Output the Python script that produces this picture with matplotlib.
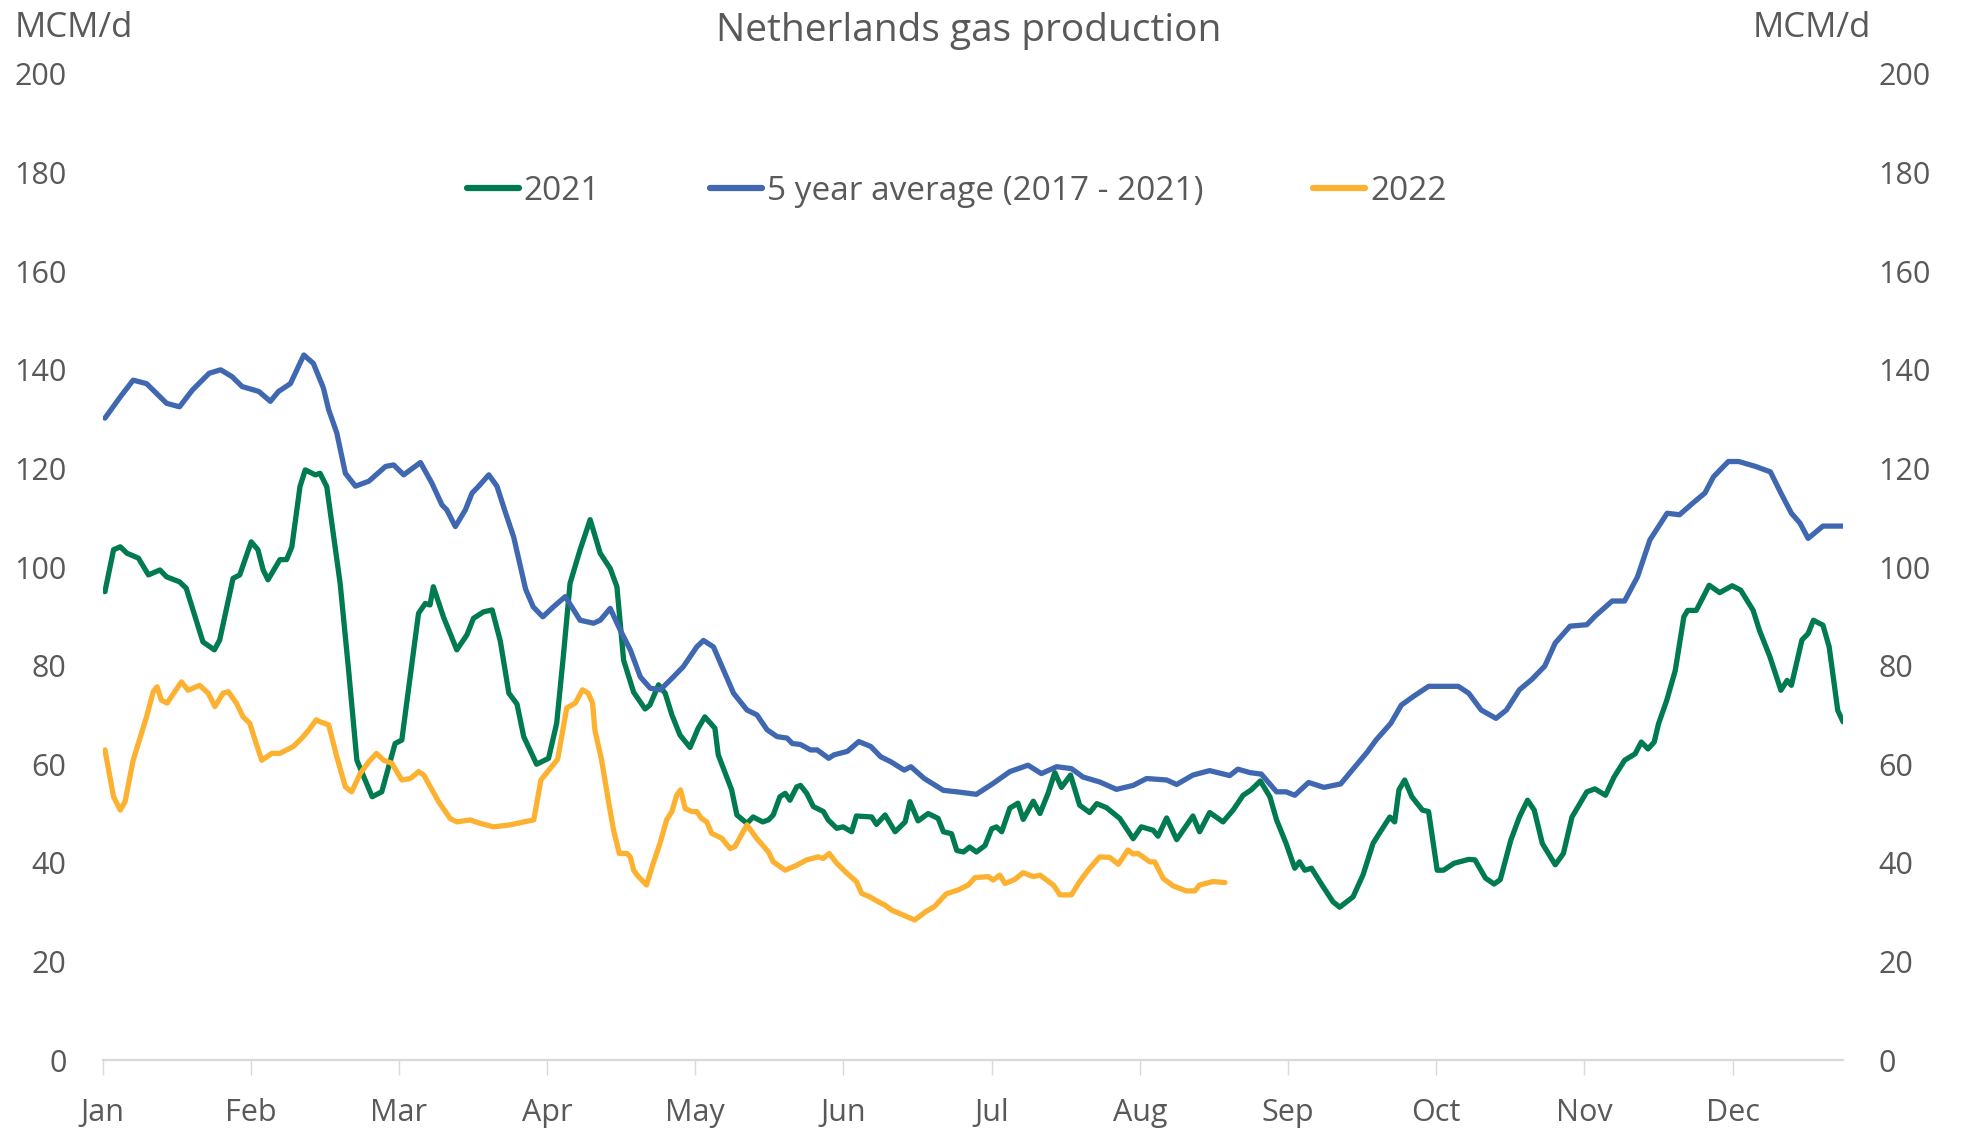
import matplotlib
matplotlib.use('Agg')
import matplotlib.pyplot as plt

plt.rcParams['font.family'] = ['Open Sans', 'DejaVu Sans']

# month tick labels (Excel category axis, one label every 31 days)
months = ['Jan', 'Feb', 'Mar', 'Apr', 'May', 'Jun', 'Jul', 'Aug', 'Sep', 'Oct', 'Nov', 'Dec']
yticks = [0, 20, 40, 60, 80, 100, 120, 140, 160, 180, 200]

# 2021 - day of year / MCM per day
days_2021 = [1.5, 3.3, 4.7, 6.1, 8.5, 10.6, 13.0, 14.4, 17.1, 18.5, 22.0, 24.4, 25.5, 28.3, 29.7,
             32.1, 33.5, 34.6, 35.6, 38.1, 39.5, 40.6, 42.3, 43.4, 45.5, 46.5, 47.9, 50.7, 52.4,
             54.2, 57.4, 59.4, 62.2, 63.6, 67.1, 68.5, 69.5, 70.2, 72.3, 75.1, 77.2, 78.6, 80.7,
             82.5, 84.2, 86.0, 87.7, 89.1, 91.8, 94.3, 96.0, 97.4, 98.8, 100.9, 103.0, 105.1,
             107.2, 108.6, 110.0, 112.1, 114.5, 115.5, 117.3, 118.7, 120.1, 121.8, 123.9, 125.6,
             127.0, 129.1, 129.8, 132.6, 133.7, 135.8, 137.1, 139.1, 140.3, 141.3, 142.7, 143.8,
             144.8, 146.2, 147.0, 148.3, 149.7, 151.8, 152.8, 154.6, 155.9, 157.7, 158.7, 161.9,
             162.9, 164.7, 166.8, 168.9, 169.9, 171.6, 173.7, 175.8, 176.9, 178.6, 179.7, 181.1,
             182.4, 183.8, 185.6, 187.0, 188.0, 189.1, 190.8, 192.5, 193.6, 195.7, 197.1, 198.8,
             200.2, 201.6, 203.5, 205.4, 207.5, 209.0, 211.0, 213.8, 216.6, 218.3, 220.8, 221.8,
             223.6, 225.7, 229.1, 230.5, 232.6, 235.4, 237.5, 239.6, 241.3, 243.2, 245.2, 246.6,
             248.6, 250.4, 251.4, 252.5, 253.9, 256.3, 258.4, 259.8, 262.6, 264.7, 266.8, 268.5,
             270.3, 271.3, 272.2, 273.4, 274.9, 277.1, 278.4, 280.2, 281.5, 283.7, 286.8, 288.1,
             290.3, 292.1, 293.4, 295.6, 297.4, 299.1, 300.5, 302.2, 304.9, 306.6, 308.4, 311.5,
             313.2, 315.4, 317.2, 319.4, 321.6, 322.9, 324.3, 325.6, 326.5, 328.2, 330.0, 331.8,
             332.6, 334.4, 337.1, 339.3, 341.9, 343.7, 346.3, 347.6, 349.8, 352.1, 353.4, 354.3,
             356.5, 357.8, 358.9, 360.9, 362.2, 364.0, 365.1]
vals_2021 = [95.0, 103.5, 104.1, 102.8, 101.8, 98.4, 99.4, 98.0, 97.0, 95.7, 84.8, 83.2, 85.2, 97.7, 98.4,
             105.1, 103.5, 99.4, 97.4, 101.5, 101.5, 104.1, 116.3, 119.7, 118.7, 119.0, 116.3, 96.7, 79.8,
             60.8, 53.4, 54.4, 64.2, 64.9, 90.6, 92.6, 92.3, 96.0, 89.9, 83.2, 86.2, 89.6, 90.9,
             91.3, 85.0, 74.4, 72.2, 65.6, 60.0, 61.2, 68.3, 82.0, 96.7, 103.5, 109.6, 102.8,
             99.7, 96.0, 81.1, 74.6, 71.2, 72.0, 76.1, 74.4, 70.0, 65.9, 63.4, 67.3,
             69.6, 67.3, 61.9, 54.8, 49.7, 48.0, 49.3, 48.3, 48.7, 49.7, 53.4, 54.1,
             52.7, 55.4, 55.7, 54.1, 51.4, 50.4, 48.7, 47.0, 47.3, 46.3, 49.5, 49.3,
             47.8, 49.7, 46.3, 48.3, 52.4, 48.5, 50.0, 49.0, 46.3, 45.9, 42.5, 42.2,
             43.2, 42.2, 43.5, 46.9, 47.3, 46.3, 51.1, 52.1, 48.8, 52.5, 50.0, 54.1,
             58.3, 55.3, 57.8, 51.7, 50.2, 52.0, 51.2, 49.0, 44.9, 47.3, 46.6, 45.4,
             49.1, 44.7, 49.5, 46.3, 50.2, 48.3, 50.7, 53.7, 54.8, 56.6, 53.4, 48.7,
             43.9, 38.9, 40.2, 38.5, 38.9, 35.2, 32.1, 31.0, 33.1, 37.6, 44.0, 46.6,
             49.3, 48.3, 54.8, 56.8, 53.4, 50.7, 50.4, 38.5, 38.5, 39.9, 40.7, 40.6,
             36.9, 35.7, 36.6, 44.6, 49.3, 52.7, 50.7, 43.9, 39.6, 41.9, 49.3, 54.4,
             55.0, 53.7, 57.4, 60.8, 62.1, 64.5, 63.1, 64.5, 68.2, 72.9, 79.0, 89.9,
             91.2, 91.2, 96.3, 94.8, 96.2, 95.3, 91.2, 87.2, 81.8, 75.0, 77.0, 76.0,
             85.2, 86.5, 89.2, 88.2, 83.8, 70.9, 68.6]

# 5 year average (2017 - 2021)
days_avg = [1.5, 4.7, 7.4, 10.2, 14.4, 17.1, 19.8, 23.3, 25.7, 28.1, 30.2, 33.7, 36.1, 37.8, 40.3,
            43.1, 45.1, 47.2, 48.3, 50.0, 51.8, 53.9, 56.7, 60.2, 61.9, 64.0, 67.5, 69.9, 72.0,
            73.0, 74.8, 76.9, 78.3, 79.7, 81.8, 83.5, 85.3, 87.0, 89.5, 91.1, 93.1, 95.3, 97.8,
            100.9, 103.7, 105.1, 107.2, 109.3, 111.4, 113.5, 115.6, 117.7, 120.4, 122.5, 125.3,
            126.7, 128.8, 130.9, 133.0, 135.8, 137.9, 140.0, 142.1, 144.2, 145.3, 147.0, 149.1,
            150.5, 152.9, 154.0, 156.8, 159.2, 161.7, 163.8, 165.9, 168.7, 170.1, 172.9, 176.9,
            179.7, 183.8, 187.3, 190.8, 194.6, 197.4, 200.6, 203.7, 206.1, 209.6, 213.1, 216.6,
            219.4, 223.6, 225.7, 229.1, 232.6, 236.8, 238.5, 241.0, 243.4, 246.6, 248.6, 250.4,
            253.3, 256.5, 260.0, 263.0, 265.6, 267.4, 270.5, 272.7, 275.3, 278.4, 281.5, 284.6,
            286.8, 289.4, 292.5, 294.7, 297.4, 300.0, 302.7, 304.9, 308.0, 311.5, 313.3, 316.8,
            319.4, 322.1, 324.7, 328.3, 330.9, 333.6, 336.2, 338.0, 341.1, 343.3, 346.8, 349.9,
            352.1, 354.3, 356.1, 357.8, 360.9, 365.0]
vals_avg = [130.2, 134.5, 137.9, 137.2, 133.2, 132.5, 135.9, 139.3, 140.0, 138.6, 136.6, 135.6, 133.6, 135.6, 137.2,
            143.0, 141.3, 136.3, 131.9, 127.2, 119.0, 116.4, 117.4, 120.4, 120.7, 118.7, 121.2, 117.0, 112.6,
            111.6, 108.2, 111.6, 115.0, 116.4, 118.7, 116.4, 111.0, 106.1, 95.5, 91.9, 89.9, 91.9, 94.0,
            89.2, 88.6, 89.2, 91.6, 87.2, 83.2, 77.7, 75.4, 75.1, 77.7, 79.8, 83.8,
            85.1, 83.8, 79.1, 74.4, 71.0, 70.0, 67.0, 65.6, 65.3, 64.2, 64.0, 62.9,
            62.9, 61.2, 61.9, 62.6, 64.6, 63.6, 61.5, 60.5, 58.8, 59.5, 57.1, 54.7,
            54.4, 53.9, 56.1, 58.5, 59.8, 58.1, 59.5, 59.1, 57.4, 56.4, 54.9, 55.7,
            57.1, 56.8, 55.9, 57.8, 58.7, 57.7, 59.0, 58.3, 58.0, 54.4, 54.4, 53.7,
            56.3, 55.3, 56.0, 59.5, 62.5, 64.9, 68.3, 72.0, 73.8, 75.8, 75.8, 75.8,
            74.4, 71.0, 69.3, 71.0, 75.1, 77.2, 79.9, 84.6, 88.0, 88.3, 90.1, 93.1,
            93.1, 98.0, 105.5, 110.9, 110.6, 112.9, 115.0, 118.3, 121.4, 121.4, 120.4, 119.3,
            115.0, 110.9, 108.9, 105.8, 108.3, 108.3]

# 2022 (year to date)
days_2022 = [1.5, 3.3, 4.7, 5.7, 7.4, 10.2, 11.6, 12.4, 13.3, 14.5, 16.1, 17.5, 18.9, 21.3, 23.1,
             24.5, 26.2, 27.3, 29.0, 30.4, 31.8, 32.9, 34.3, 36.4, 38.1, 40.9, 42.7, 44.1, 45.7,
             46.5, 48.3, 50.0, 51.8, 53.1, 54.9, 56.7, 58.3, 59.8, 61.5, 63.6, 65.4, 67.1, 68.2,
             71.3, 73.7, 75.1, 77.9, 80.0, 82.8, 86.3, 89.1, 91.2, 92.7, 94.2, 96.2, 98.1, 99.9,
             101.4, 102.6, 103.5, 104.0, 105.4, 106.8, 107.9, 109.1, 110.7, 111.4, 112.1, 113.1,
             114.8, 116.2, 117.6, 119.0, 120.1, 121.1, 121.9, 122.9, 124.3, 125.3, 126.3, 127.4,
             128.4, 130.5, 132.3, 133.3, 135.8, 137.8, 140.3, 141.3, 143.8, 146.2, 148.3, 150.7,
             151.8, 153.0, 154.6, 156.7, 158.7, 159.8, 161.5, 163.3, 164.7, 166.1, 168.5, 170.9,
             173.2, 175.0, 177.5, 180.0, 182.1, 183.5, 186.3, 187.3, 188.7, 189.8, 191.8, 193.6,
             195.7, 197.1, 199.9, 201.3, 203.7, 205.4, 207.5, 209.6, 211.7, 213.5, 215.5, 216.6,
             217.6, 220.1, 221.1, 222.9, 225.0, 227.7, 229.5, 230.5, 233.3, 235.8]
vals_2022 = [62.9, 53.4, 50.7, 52.4, 60.8, 69.6, 74.7, 75.7, 73.0, 72.4, 74.7, 76.7, 75.0, 76.0, 74.4,
             71.7, 74.4, 74.7, 72.4, 69.6, 68.3, 64.9, 60.8, 62.2, 62.2, 63.6, 65.3, 66.9, 69.0,
             68.6, 68.0, 61.5, 55.4, 54.4, 58.1, 60.5, 62.2, 60.8, 60.2, 56.8, 57.1, 58.5, 57.8,
             52.4, 49.0, 48.3, 48.7, 48.0, 47.3, 47.7, 48.3, 48.7, 56.8, 58.6, 61.0, 71.4, 72.4,
             75.1, 74.4, 72.4, 66.9, 60.8, 52.7, 46.6, 41.9, 41.9, 41.2, 38.5, 37.2,
             35.5, 39.9, 43.9, 48.7, 50.4, 53.7, 54.8, 51.0, 50.4, 50.4, 49.0, 48.3,
             46.0, 45.0, 42.9, 43.3, 47.7, 45.0, 42.2, 40.2, 38.5, 39.5, 40.6, 41.2,
             40.9, 41.9, 39.9, 37.9, 36.2, 33.8, 33.1, 32.1, 31.4, 30.4, 29.4, 28.4,
             30.1, 31.1, 33.7, 34.5, 35.5, 37.0, 37.2, 36.5, 37.5, 35.8, 36.6, 38.0,
             37.2, 37.5, 35.5, 33.5, 33.5, 36.2, 38.9, 41.2, 41.1, 39.7, 42.6, 41.8,
             41.9, 40.2, 40.2, 36.8, 35.3, 34.3, 34.3, 35.5, 36.2, 36.0]

grey = '#595959'

fig = plt.figure(figsize=(19.61, 11.33), dpi=100)
ax = fig.add_axes([0.0523, 0.0644, 0.8873, 0.8703])

ax.plot(days_2021, vals_2021, color='#007A4F', lw=3.8, label='2021',
        solid_joinstyle='round', solid_capstyle='round')
ax.plot(days_avg, vals_avg, color='#3F68B0', lw=3.8, label='5 year average (2017 - 2021)',
        solid_joinstyle='round', solid_capstyle='round')
ax.plot(days_2022, vals_2022, color='#FDB131', lw=3.8, label='2022',
        solid_joinstyle='round', solid_capstyle='round')

ax.set_xlim(1, 365)
ax.set_ylim(0, 200)
ax.set_xticks([1 + 31 * i for i in range(12)])
ax.set_xticklabels(months)
ax.set_yticks(yticks)

for s in ['left', 'right', 'top']:
    ax.spines[s].set_visible(False)
ax.spines['bottom'].set_color('#D9D9D9')
ax.spines['bottom'].set_linewidth(1.6)

ax.tick_params(axis='x', colors='#D9D9D9', length=11, width=1.0, pad=16, labelsize=22, labelcolor=grey)
ax.tick_params(axis='y', length=0, pad=26, labelsize=22, labelcolor=grey,
               labelleft=True, labelright=True)

fig.text(0.0077, 0.975, 'MCM/d', fontsize=25, color=grey, ha='left', va='center')
fig.text(0.954, 0.975, 'MCM/d', fontsize=25, color=grey, ha='right', va='center')
fig.text(0.494, 0.973, 'Netherlands gas production', fontsize=28, color=grey, ha='center', va='center')

leg = ax.legend(loc='center', bbox_to_anchor=(0.491, 0.881), ncol=3, frameon=False, fontsize=24,
                handlelength=1.55, handletextpad=0.15, columnspacing=3.3, labelcolor=grey)
for line in leg.get_lines():
    line.set_linewidth(4.5)
    line.set_solid_capstyle('round')

fig.savefig('out.png', dpi=100)
